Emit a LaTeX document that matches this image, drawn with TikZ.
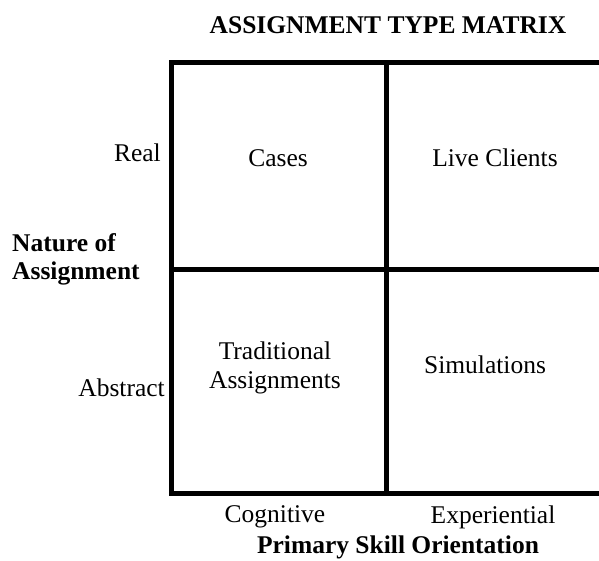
\documentclass[tikz,border=0pt]{standalone}
\usepackage{fontspec}
\setmainfont{Liberation Serif}

\begin{document}
\begin{tikzpicture}[x=1pt, y=-1pt, every node/.style={inner sep=0pt, align=center, font=\fontsize{25.5}{29}\selectfont}, heading/.style={font=\fontsize{25.5}{28}\selectfont\bfseries}]
\useasboundingbox (0,0) rectangle (599,560);
\coordinate (TL) at (171,62.5);
\coordinate (TR) at (599,62.5);
\coordinate (BL) at (171,493);
\coordinate (BR) at (599,493);
\coordinate (MT) at (386,62.5);
\coordinate (MB) at (386,493);
\coordinate (ML) at (171,269);
\coordinate (MR) at (599,269);
\draw[line width=5pt] (TR) -- (TL) -- (BL) -- (BR);
\draw[line width=5pt] (MT) -- (MB);
\draw[line width=5pt] (ML) -- (MR);
\node[heading] (title) at (388,25) {ASSIGNMENT TYPE MATRIX};
\node (cases) at (278,158) {Cases};
\node (live) at (495,158) {Live Clients};
\node (trad) at (275,368) {Traditional\\Assignments};
\node (sim) at (485,365) {Simulations};
\node[anchor=east] (real) at (161,153) {Real};
\node[anchor=east] (abstract) at (165,388) {Abstract};
\node[heading, anchor=west, align=left] (nature) at (12,259) {Nature of\\Assignment};
\node (cog) at (275,517) {Cognitive};
\node (exp) at (493,517) {Experiential};
\node[heading] (skill) at (398,547) {Primary Skill Orientation};
\end{tikzpicture}
\end{document}
